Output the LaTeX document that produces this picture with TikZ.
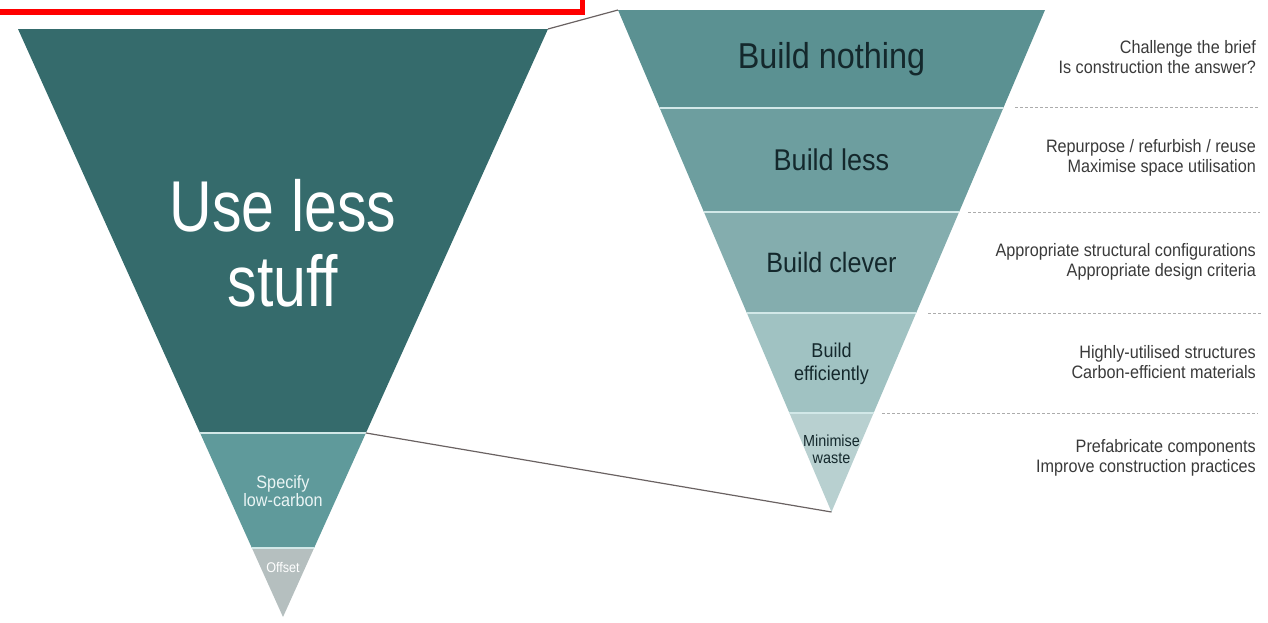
\documentclass[tikz,border=0pt]{standalone}
\usepackage{fontspec}
\setmainfont{Liberation Sans}
\newfontfamily\narrowsans[FakeStretch=0.9]{Liberation Sans}
\newfontfamily\tallsans[FakeStretch=0.82]{Liberation Sans}
\definecolor{tealdark}{HTML}{356B6C}
\definecolor{tealmid}{HTML}{5F9A9B}
\definecolor{offgray}{HTML}{B5BFBF}
\definecolor{stepA}{HTML}{5B9192}
\definecolor{stepB}{HTML}{6D9E9F}
\definecolor{stepC}{HTML}{84ADAE}
\definecolor{stepD}{HTML}{A0C2C2}
\definecolor{stepE}{HTML}{B8D0D0}
\definecolor{sepline}{HTML}{D2E8E8}
\definecolor{inkdark}{HTML}{14282C}
\definecolor{notegray}{HTML}{3A3A3A}
\definecolor{zoomgray}{HTML}{6A6262}

\begin{document}
\begin{tikzpicture}[x=1pt, y=-1pt,
  sep/.style={draw=sepline, line width=2pt},
  guide/.style={draw=gray!65, line width=1pt, dash pattern=on 3pt off 2pt},
  zoomline/.style={draw=zoomgray, line width=1.2pt},
  stage/.style={text=inkdark, align=center, inner sep=0pt},
  lightstage/.style={stage, text=white},
  note/.style={font=\narrowsans\fontsize{18}{20}\selectfont, text=notegray,
    align=right, anchor=east, inner sep=0pt},
]
\clip (0,0) rectangle (1268,623);

% Frame
\draw[red, line width=5.5pt] (-20,-40) rectangle (582.5,12);

% Left funnel
\coordinate (L-tl) at (18,29);
\coordinate (L-tr) at (548,29);
\coordinate (L-apex) at (283,617);
\coordinate (L-mr) at (366,433);
\begin{scope}
  \clip (L-tl) -- (L-tr) -- (L-apex) -- cycle;
  \fill[tealdark] (0,29) rectangle (560,433);
  \fill[tealmid] (0,433) rectangle (560,548);
  \fill[offgray] (0,548) rectangle (560,620);
  \draw[sep] (0,433) -- (560,433);
  \draw[sep] (0,548) -- (560,548);
\end{scope}
\node[lightstage, font=\tallsans\fontsize{72}{75}\selectfont] (useless) at (283,243) {Use less\\stuff};
\node[lightstage, text=white!92!teal, font=\narrowsans\fontsize{18}{18}\selectfont] (lowcarbon) at (283,491) {Specify\\low-carbon};
\node[lightstage, font=\narrowsans\fontsize{14}{14}\selectfont] (offset) at (283,567) {Offset};

% Right funnel
\coordinate (R-tl) at (618,10);
\coordinate (R-tr) at (1045,10);
\coordinate (R-apex) at (831.5,512);
\begin{scope}
  \clip (R-tl) -- (R-tr) -- (R-apex) -- cycle;
  \fill[stepA] (600,10) rectangle (1060,108);
  \fill[stepB] (600,108) rectangle (1060,212);
  \fill[stepC] (600,212) rectangle (1060,313);
  \fill[stepD] (600,313) rectangle (1060,413);
  \fill[stepE] (600,413) rectangle (1060,515);
  \foreach \y in {108,212,313,413}
    \draw[sep] (600,\y) -- (1060,\y);
\end{scope}
\node[stage, font=\narrowsans\fontsize{36}{40}\selectfont] (nothing) at (831.5,59) {Build nothing};
\node[stage, font=\narrowsans\fontsize{30}{34}\selectfont] (less) at (831.5,160) {Build less};
\node[stage, font=\narrowsans\fontsize{28}{32}\selectfont] (clever) at (831.5,262) {Build clever};
\node[stage, font=\narrowsans\fontsize{20}{23}\selectfont] (efficient) at (831.5,364) {Build\\efficiently};
\node[stage, font=\narrowsans\fontsize{16}{17}\selectfont] (waste) at (831.5,449) {Minimise\\waste};

% Zoom lines between the funnels
\draw[zoomline] (L-tr) -- (R-tl);
\draw[zoomline] (L-mr) -- (R-apex);

% Dashed guides
\draw[guide] (1015,108) -- (1258,108);
\draw[guide] (968,212) -- (1260,212);
\draw[guide] (928,313) -- (1262,313);
\draw[guide] (882,413) -- (1258,413);

% Notes
\node[note] (brief) at (1256,57) {Challenge the brief\\Is construction the answer?};
\node[note] (reuse) at (1256,158) {Repurpose / refurbish / reuse\\Maximise space utilisation};
\node[note] (config) at (1256,262) {Appropriate structural configurations\\Appropriate design criteria};
\node[note] (materials) at (1256,362) {Highly-utilised structures\\Carbon-efficient materials};
\node[note] (practices) at (1256,458) {Prefabricate components\\Improve construction practices};

\end{tikzpicture}
\end{document}
